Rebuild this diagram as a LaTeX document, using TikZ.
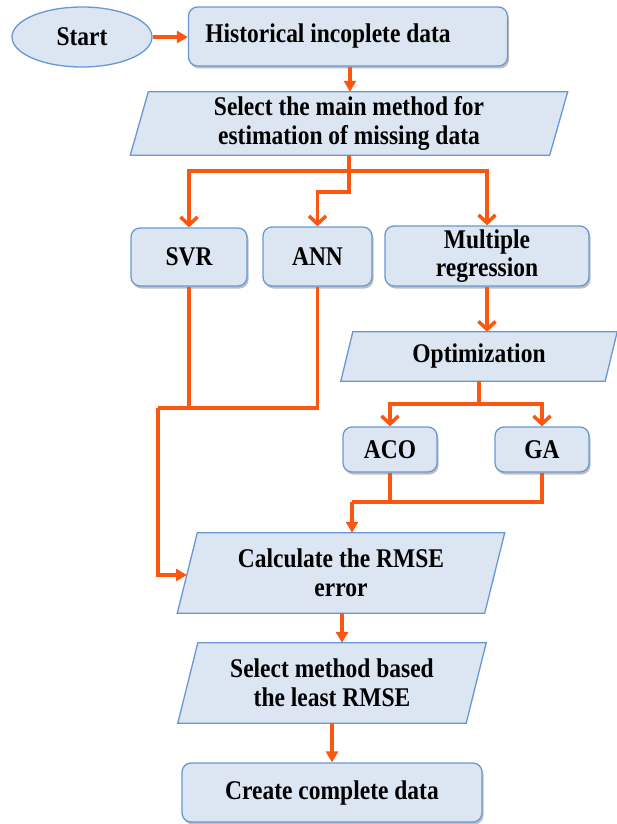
\documentclass[tikz,border=0pt]{standalone}
\usepackage{fontspec}
\setmainfont{Liberation Serif}[FakeStretch=0.87]
\usetikzlibrary{arrows.meta,shadows,backgrounds,shapes.geometric}
\definecolor{arr}{RGB}{250,88,18}
\definecolor{bfill}{RGB}{220,230,242}
\definecolor{bdraw}{RGB}{104,152,212}
\newcommand\pgram[7]{% name, cx, cy, width, height, half slant, text
  \node[minimum width=#4pt, minimum height=#5pt] (#1) at (#2,#3) {#7};
  \begin{scope}[on background layer]
    \draw[pbox] ([xshift=#6pt]#1.north west) -- ([xshift=#6pt]#1.north east)
      -- ([xshift=-#6pt]#1.south east) -- ([xshift=-#6pt]#1.south west) -- cycle;
  \end{scope}}
\begin{document}
\begin{tikzpicture}[x=1pt,y=-1pt,
  every node/.style={font=\bfseries\fontsize{27}{28.5}\selectfont, align=center, inner sep=0pt},
  rbox/.style={draw=bdraw, fill=bfill, line width=1.3pt, rounded corners=9pt,
    drop shadow={shadow xshift=1.5pt, shadow yshift=-2.5pt, fill=black, opacity=0.25}},
  pbox/.style={draw=bdraw, fill=bfill, line width=1.3pt},
  tri/.style={draw=arr, line width=3.5pt, -{Triangle[length=11pt,width=12pt]}},
  barb/.style={draw=arr, line width=3.5pt, -{Straight Barb[length=8pt,width=17pt]}},
  plain/.style={draw=arr, line width=3.5pt}]
\useasboundingbox (0,0) rectangle (617,824);

% nodes
\node[ellipse, draw=bdraw, fill=bfill, line width=1.3pt, minimum width=140pt, minimum height=60pt] (start) at (82,37) {Start};
\node[rbox, minimum width=319pt, minimum height=59pt] (hist) at (348,36.5) {\hspace*{-40pt}Historical incoplete data};
\pgram{sel1}{349}{123.5}{419}{63}{9}{Select the main method for\\estimation of missing data}
\node[rbox, minimum width=116pt, minimum height=58pt] (svr) at (189,257) {SVR};
\node[rbox, minimum width=109pt, minimum height=59pt] (ann) at (317.5,256.5) {ANN};
\node[rbox, minimum width=204pt, minimum height=60pt] (mr) at (487,256) {Multiple\\regression};
\pgram{opt}{479}{356.5}{264}{49}{6}{Optimization}
\node[rbox, minimum width=94pt, minimum height=45pt] (aco) at (390,449.5) {ACO};
\node[rbox, minimum width=94pt, minimum height=45pt] (ga) at (542,449.5) {GA};
\pgram{calc}{341}{573}{307}{80}{10}{Calculate the RMSE\\error}
\pgram{sel2}{332}{683}{288}{80}{10}{Select method based\\the least RMSE}
\node[rbox, minimum width=300pt, minimum height=59pt] (create) at (332,792.5) {Create complete data};

% junctions
\coordinate (j1) at (349,171);
\coordinate (j2) at (349,192);
\coordinate (j3) at (479,404);
\coordinate (j4) at (352,502);
\coordinate (j5) at (158,408);
\coordinate (cin) at (187,575);

% connectors
\draw[tri] (start.east) -- (hist.west |- start.east);
\draw[tri] ([xshift=2pt]hist.south) -- ([xshift=2pt]hist.south |- sel1.north);
\draw[plain] (sel1.south) -- (j1);
\draw[barb] (j1) -| (svr.north);
\draw[barb] (j1) -| (mr.north);
\draw[barb] (j1) -- (j2) -| (ann.north);
\draw[barb] (mr.south) -- (mr.south |- opt.north);
\draw[plain] (opt.south) -- (j3);
\draw[barb] (j3) -| (aco.north);
\draw[barb] (j3) -| (ga.north);
\draw[plain] (ga.south) |- (j4);
\draw[plain] (aco.south) -- (aco.south |- j4);
\draw[tri] (j4) -- (j4 |- calc.north);
\draw[plain] (ann.south) |- (j5);
\draw[plain] (svr.south) -- (svr.south |- j5);
\draw[tri] (j5) |- (cin);
\draw[tri] ([xshift=1pt]calc.south) -- ([xshift=1pt]calc.south |- sel2.north);
\draw[tri] (sel2.south) -- (create.north);
\end{tikzpicture}
\end{document}
